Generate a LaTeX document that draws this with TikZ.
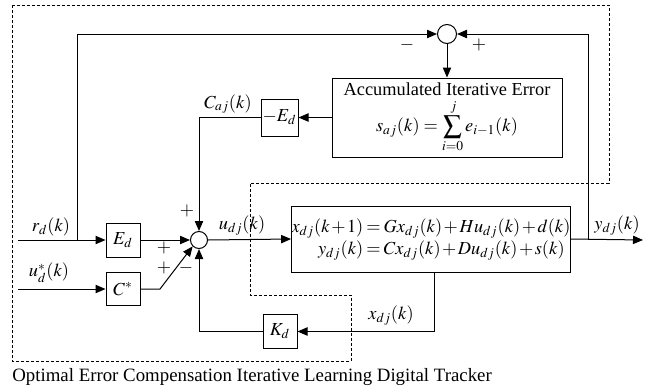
\documentclass[tikz,border=0pt]{standalone}
\usepackage{amsmath}
\usepackage{mathptmx}
\usepackage[no-math]{fontspec}
\setmainfont{Liberation Serif}
\usetikzlibrary{arrows.meta,calc}
\tikzset{
  blk/.style={draw,line width=0.6pt,inner sep=0pt,font=\fontsize{11}{13}\selectfont},
  sumc/.style={draw,circle,line width=0.6pt,inner sep=0pt,fill=white},
  arr/.style={line width=0.6pt,-{Triangle[length=6pt,width=5pt]}},
  ln/.style={line width=0.6pt},
  lbl/.style={font=\fontsize{11}{13}\selectfont,inner sep=0pt},
  dsh/.style={line width=0.5pt,dash pattern=on 1.8pt off 1.2pt}
}
\begin{document}
\begin{tikzpicture}[x=0.6pt,y=-0.6pt]
\useasboundingbox (0,0) rectangle (645,390);
% dashed region
\draw[dsh] (12,5) -- (609,5) -- (609,183) -- (250,183) -- (250,295) -- (351,295) -- (351,361) -- (12,361) -- cycle;
% blocks
\node[sumc,minimum size=11.4pt] (s1) at (447,34) {};
\node[sumc,minimum size=10.2pt] (s2) at (199,240) {};
\node[blk,minimum width=138pt,minimum height=47.4pt,align=center] (acc) at (447,117.5)
  {Accumulated Iterative Error\\[2pt] $\displaystyle s_{aj}(k)=\sum\limits_{i=0}^{\,j}e_{i-1}(k)$};
\node[blk,minimum width=22.2pt,minimum height=22.2pt] (med) at (279.5,117.5) {$-E_d$};
\node[blk,minimum width=20.4pt,minimum height=20.4pt] (ed) at (123,240) {$E_d$};
\node[blk,minimum width=20.4pt,minimum height=20pt] (cs) at (123,289) {$C^{*}$};
\node[blk,minimum width=20.4pt,minimum height=20pt] (kd) at (280,331.5) {$K_d$};
\node[blk,minimum width=165.6pt,minimum height=39.6pt] (sys) at (431,239)
  {$\medmuskip=1.5mu\thickmuskip=3mu\begin{aligned} x_{dj}(k+1)&=Gx_{dj}(k)+Hu_{dj}(k)+d(k)\\[-3pt] y_{dj}(k)&=Cx_{dj}(k)+Du_{dj}(k)+s(k)\end{aligned}$};
% coordinates
\coordinate (rin) at (18,240);
\coordinate (uin) at (18,289);
\coordinate (rbr) at (77,240);
\coordinate (ybr) at (588,240);
\coordinate (yout) at (643,240);
\coordinate (cbend) at (160,289);
\coordinate (xb) at (434,272);
\coordinate (xc) at (434,331.5);
% connectors
\draw[arr] (rbr) |- (s1.west);
\draw[arr] (ybr) |- (s1.east);
\draw[arr] (s1.south) -- (acc.north);
\draw[arr] (acc.west) -- (med.east);
\draw[arr] (med.west) -| (s2.north);
\draw[arr] (rin) -- (ed.west);
\draw[arr] (ed.east) -- (s2.west);
\draw[arr] (uin) -- (cs.west);
\draw[arr] (cs.east) -- (cbend) -- (s2.south west);
\draw[arr] (s2.east) -- (sys.west);
\draw[arr] (sys.east) -- (yout);
\draw[ln] (xb) -- (xc);
\draw[arr] (xc) -- (kd.east);
\draw[arr] (kd.west) -| (s2.south);
% labels
\node[lbl] at (407,45) {$-$};
\node[lbl] at (479,45) {$+$};
\node[lbl] at (228,104) {$C_{aj}(k)$};
\node[lbl] at (187,211) {$+$};
\node[lbl] at (164,248) {$+$};
\node[lbl] at (164,268) {$+$};
\node[lbl] at (186,268) {$-$};
\node[lbl] at (51,227) {$r_d(k)$};
\node[lbl] at (49,273) {$u_d^{*}(k)$};
\node[lbl] at (242,226) {$u_{dj}(k)$};
\node[lbl] at (391,316) {$x_{dj}(k)$};
\node[lbl] at (617,226) {$y_{dj}(k)$};
\node[lbl,anchor=west,font=\fontsize{11.3}{13}\selectfont] (cap) at (12,377) {Optimal Error Compensation Iterative Learning Digital Tracker};
\end{tikzpicture}
\end{document}
